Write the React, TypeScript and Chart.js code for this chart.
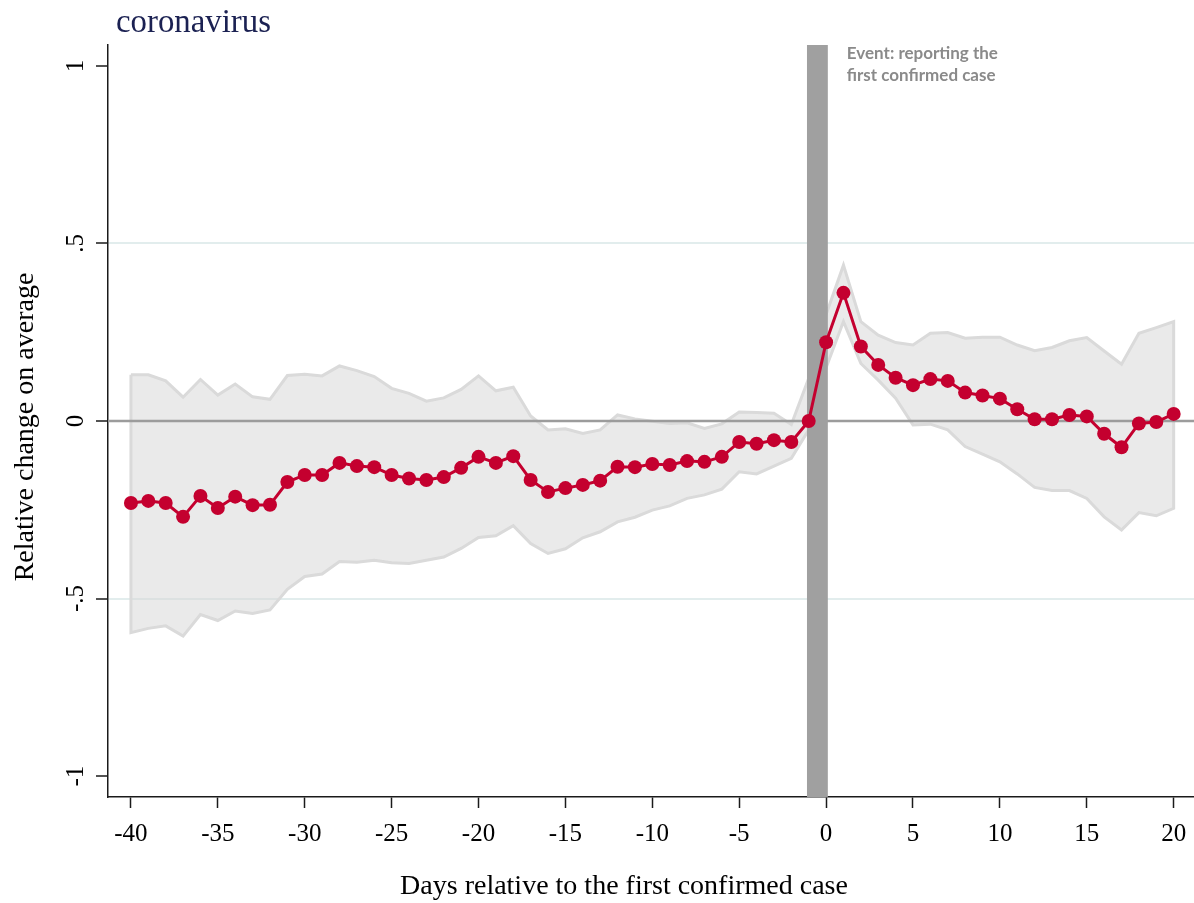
import React, { useEffect, useRef } from 'react';
import { Chart, registerables } from 'chart.js';

Chart.register(...registerables);

// ---------- data ----------
const days = [
  -40, -39, -38, -37, -36, -35, -34, -33, -32, -31,
  -30, -29, -28, -27, -26, -25, -24, -23, -22, -21,
  -20, -19, -18, -17, -16, -15, -14, -13, -12, -11,
  -10, -9, -8, -7, -6, -5, -4, -3, -2, -1,
  0, 1, 2, 3, 4, 5, 6, 7, 8, 9,
  10, 11, 12, 13, 14, 15, 16, 17, 18, 19, 20,
];

const estimate = [
  -0.231, -0.225, -0.231, -0.270, -0.211, -0.245, -0.213, -0.237, -0.236, -0.172,
  -0.152, -0.152, -0.118, -0.127, -0.130, -0.152, -0.162, -0.166, -0.158, -0.132,
  -0.101, -0.118, -0.099, -0.166, -0.200, -0.189, -0.180, -0.168, -0.129, -0.130,
  -0.121, -0.124, -0.113, -0.115, -0.101, -0.059, -0.064, -0.054, -0.059, 0.0,
  0.222, 0.361, 0.210, 0.158, 0.122, 0.101, 0.118, 0.113, 0.080, 0.072,
  0.063, 0.033, 0.005, 0.005, 0.017, 0.013, -0.036, -0.074, -0.007, -0.003, 0.020,
];

const upper = [
  0.130, 0.130, 0.113, 0.067, 0.117, 0.073, 0.104, 0.068, 0.061, 0.128,
  0.132, 0.127, 0.155, 0.142, 0.125, 0.092, 0.078, 0.056, 0.065, 0.089,
  0.127, 0.085, 0.095, 0.014, -0.025, -0.022, -0.035, -0.025, 0.017, 0.006,
  -0.001, -0.007, -0.005, -0.021, -0.008, 0.025, 0.024, 0.022, -0.010, 0.120,
  0.300, 0.439, 0.280, 0.242, 0.221, 0.214, 0.247, 0.249, 0.233, 0.236,
  0.236, 0.214, 0.198, 0.207, 0.226, 0.235, 0.197, 0.160, 0.247, 0.263, 0.280,
];

const lower = [
  -0.596, -0.584, -0.577, -0.606, -0.545, -0.562, -0.535, -0.542, -0.532, -0.474,
  -0.438, -0.431, -0.396, -0.398, -0.392, -0.399, -0.401, -0.392, -0.383, -0.359,
  -0.328, -0.323, -0.295, -0.345, -0.373, -0.360, -0.329, -0.312, -0.284, -0.271,
  -0.251, -0.239, -0.218, -0.208, -0.192, -0.143, -0.149, -0.127, -0.105, -0.025,
  0.150, 0.280, 0.162, 0.115, 0.064, -0.011, -0.009, -0.025, -0.072, -0.093,
  -0.115, -0.149, -0.187, -0.196, -0.196, -0.218, -0.270, -0.307, -0.258, -0.267, -0.246,
];

const xTicks = [-40, -35, -30, -25, -20, -15, -10, -5, 0, 5, 10, 15, 20];
const yTicks = [-1, -0.5, 0, 0.5, 1];
const yTickLabels = ['-1', '-.5', '0', '.5', '1'];
const yGridValues = [-0.5, 0.5];

const eventWindow = [-1.1, 0.1];
const xRange = [-41.32, 21.17];
const yRange = [-1.059, 1.059];

const titleText = 'coronavirus';
const xTitle = 'Days relative to the first confirmed case';
const yTitle = 'Relative change on average';
const eventLabel = ['Event: reporting the', 'first confirmed case'];

// ---------- styles ----------
const RED = '#c4002f';
const SERIF = '"Liberation Serif", "Times New Roman", serif';

const overlayPlugin = {
  id: 'overlay',
  beforeDatasetDraw(chart: any, args: any) {
    if (args.index !== 1) return;
    const { ctx, chartArea, scales } = chart;
    const x = scales.x;
    const y = scales.y;
    ctx.save();
    // zero reference line
    const y0 = y.getPixelForValue(0);
    ctx.strokeStyle = '#9c9c9c';
    ctx.lineWidth = 2.5;
    ctx.beginPath();
    ctx.moveTo(chartArea.left, y0);
    ctx.lineTo(chartArea.right, y0);
    ctx.stroke();
    // event window bar
    const xa = x.getPixelForValue(eventWindow[0]);
    const xb = x.getPixelForValue(eventWindow[1]);
    ctx.fillStyle = '#a0a0a0';
    ctx.fillRect(xa, chartArea.top, xb - xa, chartArea.bottom - chartArea.top);
    ctx.restore();
  },
  afterDraw(chart: any) {
    const { ctx, chartArea, scales } = chart;
    const y = scales.y;
    const x = scales.x;
    ctx.save();
    // chart title
    ctx.fillStyle = '#1b2152';
    ctx.font = `34px ${SERIF}`;
    ctx.textAlign = 'left';
    ctx.textBaseline = 'alphabetic';
    ctx.fillText(titleText, 116, 32, 155);

    // x axis title
    ctx.fillStyle = '#000';
    ctx.font = `28px ${SERIF}`;
    ctx.textAlign = 'center';
    ctx.fillText(xTitle, 624, 894, 458);

    // y axis title (rotated)
    ctx.save();
    ctx.translate(33, 427);
    ctx.rotate(-Math.PI / 2);
    ctx.textAlign = 'center';
    ctx.textBaseline = 'alphabetic';
    ctx.fillText(yTitle, 0, 0, 313);
    ctx.restore();

    // y tick labels (rotated)
    ctx.font = `25px ${SERIF}`;
    yTicks.forEach((v, i) => {
      const py = y.getPixelForValue(v);
      ctx.save();
      ctx.translate(83, py);
      ctx.rotate(-Math.PI / 2);
      ctx.textAlign = 'center';
      ctx.textBaseline = 'alphabetic';
      ctx.fillText(yTickLabels[i], 0, 0);
      ctx.restore();
    });

    // event annotation
    const xe = x.getPixelForValue(eventWindow[1]) + 19;
    ctx.fillStyle = '#8a8a8a';
    ctx.font = 'bold 17px Lato, "Open Sans", sans-serif';
    ctx.textAlign = 'left';
    ctx.fillText(eventLabel[0], xe, chartArea.top + 14, 155);
    ctx.fillText(eventLabel[1], xe, chartArea.top + 36, 155);
    ctx.restore();
  },
};

export default function App() {
  const canvasRef = useRef<HTMLCanvasElement | null>(null);

  useEffect(() => {
    if (!canvasRef.current) return;

    const bandPolygon = [
      ...days.map((d, i) => ({ x: d, y: upper[i] })),
      ...days.map((d, i) => ({ x: d, y: lower[i] })).reverse(),
      { x: days[0], y: upper[0] },
    ];
    const estimatePoints = days.map((d, i) => ({ x: d, y: estimate[i] }));

    const chart = new Chart(canvasRef.current, {
      type: 'line',
      data: {
        datasets: [
          {
            label: '95% CI',
            data: bandPolygon,
            borderColor: '#dadada',
            borderWidth: 3,
            backgroundColor: 'rgba(214,214,214,0.5)',
            fill: 'shape',
            pointRadius: 0,
            tension: 0,
            order: 2,
          },
          {
            label: 'Estimate',
            data: estimatePoints,
            borderColor: RED,
            backgroundColor: RED,
            borderWidth: 3,
            pointRadius: 7,
            pointBackgroundColor: RED,
            pointBorderWidth: 0,
            fill: false,
            tension: 0,
            order: 1,
          },
        ],
      },
      options: {
        animation: false,
        responsive: false,
        devicePixelRatio: 1,
        layout: { autoPadding: false, padding: { top: 45, right: 0, bottom: 0, left: 0 } },
        plugins: {
          legend: { display: false },
          tooltip: { enabled: false },
          title: { display: false },
        },
        scales: {
          x: {
            type: 'linear',
            min: xRange[0],
            max: xRange[1],
            afterBuildTicks: (scale: any) => {
              scale.ticks = xTicks.map((v) => ({ value: v }));
            },
            afterFit: (scale: any) => {
              scale.height = 106;
              scale.paddingLeft = 0;
              scale.paddingRight = 0;
            },
            border: { display: true, color: '#1a1a1a', width: 1.5 },
            grid: {
              drawOnChartArea: false,
              drawTicks: true,
              tickLength: 11,
              tickColor: '#1a1a1a',
              tickWidth: 1.5,
            },
            ticks: {
              color: '#000',
              font: { family: SERIF, size: 25 },
              padding: 11,
              maxRotation: 0,
              minRotation: 0,
              callback: (v: any) => String(v),
            },
          },
          y: {
            type: 'linear',
            min: yRange[0],
            max: yRange[1],
            afterBuildTicks: (scale: any) => {
              scale.ticks = yTicks.map((v) => ({ value: v }));
            },
            afterFit: (scale: any) => {
              scale.width = 108;
              scale.paddingTop = 0;
              scale.paddingBottom = 0;
            },
            border: { display: true, color: '#1a1a1a', width: 1.5 },
            grid: {
              drawTicks: true,
              tickLength: 12,
              tickColor: '#1a1a1a',
              tickWidth: 1.5,
              lineWidth: 2,
              color: (ctx: any) =>
                ctx.tick && yGridValues.includes(ctx.tick.value) ? '#e2eded' : 'rgba(0,0,0,0)',
            },
            ticks: { display: false },
          },
        },
      },
      plugins: [overlayPlugin],
    });

    return () => chart.destroy();
  }, []);

  return (
    <div style={{ position: 'fixed', left: 0, top: 0, width: 1194, height: 903, background: '#fff' }}>
      <canvas ref={canvasRef} width={1194} height={903} style={{ width: 1194, height: 903 }} />
    </div>
  );
}
